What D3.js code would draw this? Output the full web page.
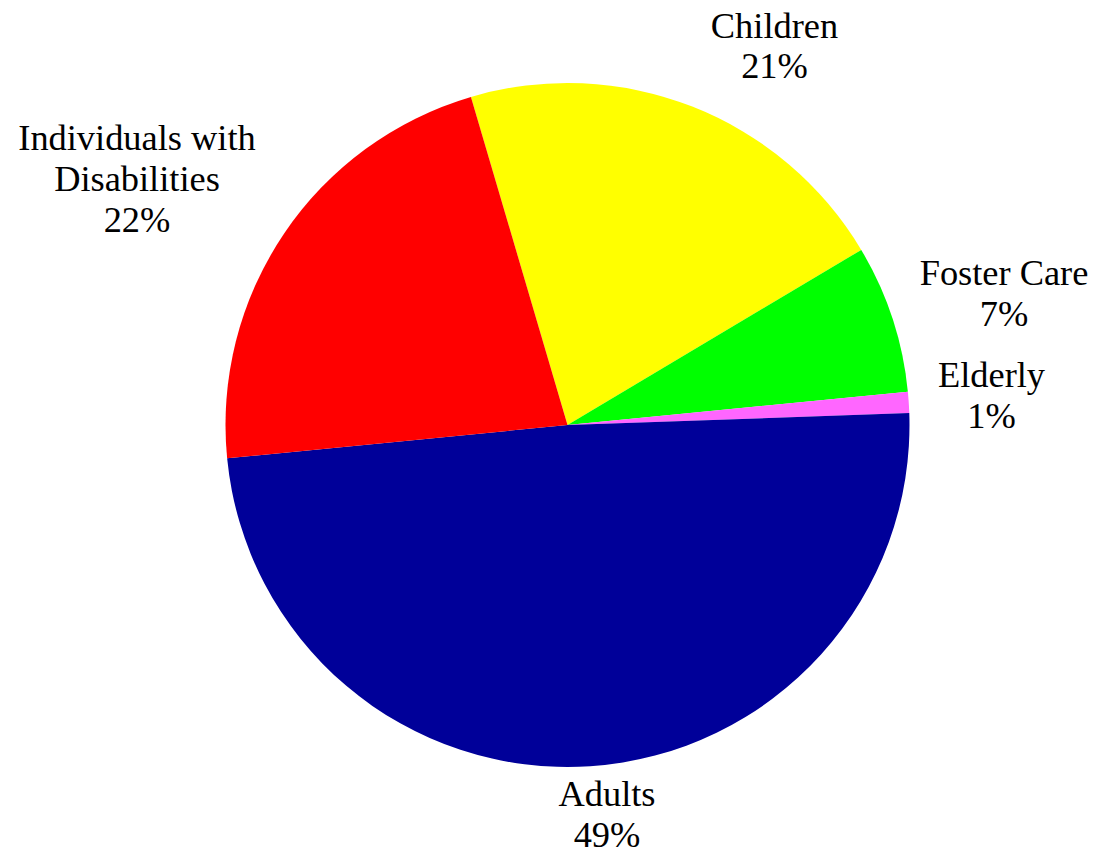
<!DOCTYPE html>
<html>
<head>
<meta charset="utf-8">
<script src="https://cdn.jsdelivr.net/npm/d3@7"></script>
<style>
  html, body { margin: 0; padding: 0; background: #ffffff; }
  svg { display: block; }
  text { font-family: "Liberation Serif", "Times New Roman", serif; fill: #000; }
</style>
</head>
<body>
<svg id="chart" width="1096" height="854"></svg>
<script>
// Slice data, in drawing order (clockwise)
const categories = ["Children", "Foster Care", "Elderly", "Adults", "Individuals with Disabilities"];
const percents   = [21, 7, 1, 49, 22];
const colors     = ["#FFFF00", "#00FF00", "#FF66FF", "#000099", "#FF0000"];
// Label text lines per slice
const labelLines = [
  ["Children"],
  ["Foster Care"],
  ["Elderly"],
  ["Adults"],
  ["Individuals with", "Disabilities"]
];

const W = 1096, H = 854;
const cx = 567.5, cy = 425, radius = 342;
const startDeg = -16.4;
const fontSize = 35, lineH = 41, textStretch = 1.04;

// label anchor: centre x and first baseline, as offsets from the pie centre
const labelAnchor = {
  "Children": [207, -387.5],
  "Foster Care": [436.5, -140],
  "Elderly": [424, -38],
  "Adults": [39.5, 381],
  "Individuals with Disabilities": [-430.5, -275]
};

const data = categories.map((c, i) => ({ name: c, value: percents[i], color: colors[i], lines: labelLines[i] }));

const svg = d3.select("#chart");
const g = svg.append("g").attr("transform", `translate(${cx},${cy})`);

const start = startDeg * Math.PI / 180;
const pie = d3.pie()
  .value(d => d.value)
  .sort(null)
  .startAngle(start)
  .endAngle(start + 2 * Math.PI);

const arc = d3.arc().innerRadius(0).outerRadius(radius);

g.selectAll("path.slice")
  .data(pie(data))
  .join("path")
  .attr("class", "slice")
  .attr("d", arc)
  .attr("fill", d => d.data.color);

// Labels: category lines followed by the percentage
const labels = g.selectAll("text.label")
  .data(pie(data))
  .join("text")
  .attr("class", "label")
  .attr("text-anchor", "middle")
  .attr("font-size", fontSize)
  .attr("transform", d => {
    const a = labelAnchor[d.data.name];
    return `translate(${a[0]},${a[1]}) scale(${textStretch},1)`;
  });

labels.each(function(d) {
  const t = d3.select(this);
  const lines = d.data.lines.concat([d.data.value + "%"]);
  lines.forEach((ln, i) => {
    t.append("tspan").attr("x", 0).attr("y", i * lineH).text(ln);
  });
});
</script>
</body>
</html>
